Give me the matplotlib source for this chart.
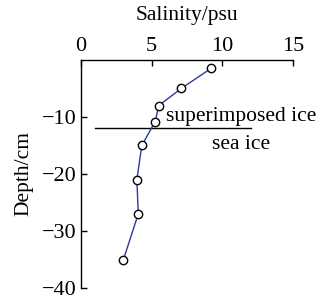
import matplotlib
matplotlib.use("Agg")
import matplotlib.pyplot as plt

# salinity profile
salinity = [9.2, 7.1, 5.5, 5.25, 4.3, 3.95, 4.05, 3.0]
depth = [-1.5, -5, -8, -10.8, -15, -21, -27, -35]

# interface between superimposed ice and sea ice
boundary_depth = -12
boundary_x = [1, 12]

plt.rcParams["font.family"] = ["Liberation Serif", "DejaVu Serif"]

fig = plt.figure(figsize=(3.18, 3.01), dpi=100)
ax = fig.add_axes([0.255, 0.043, 0.666, 0.758])

ax.plot(salinity, depth, "-", color="#2b3a9c", lw=1.0, marker="o",
        markersize=6, markerfacecolor="white", markeredgecolor="black",
        markeredgewidth=1.0, zorder=3)
ax.plot(boundary_x, [boundary_depth, boundary_depth], color="black", lw=1.0)

ax.text(6.0, -10.0, "superimposed ice", fontsize=15.5, va="center", ha="left")
ax.text(9.3, -14.9, "sea ice", fontsize=15.5, va="center", ha="left")

ax.set_xlim(0, 15)
ax.set_ylim(-40, 0)
ax.set_xticks([0, 5, 10, 15])
ax.set_yticks([-40, -30, -20, -10])
ax.xaxis.tick_top()
ax.xaxis.set_label_position("top")
ax.set_xlabel("Salinity/psu", fontsize=15.5, labelpad=12)
ax.set_ylabel("Depth/cm", fontsize=15.5, labelpad=6)
ax.tick_params(direction="in", labelsize=16, length=4, width=1, pad=3)
ax.spines["right"].set_visible(False)
ax.spines["bottom"].set_visible(False)
for s in ("top", "left"):
    ax.spines[s].set_linewidth(1.0)

fig.savefig("out.png", dpi=100)
